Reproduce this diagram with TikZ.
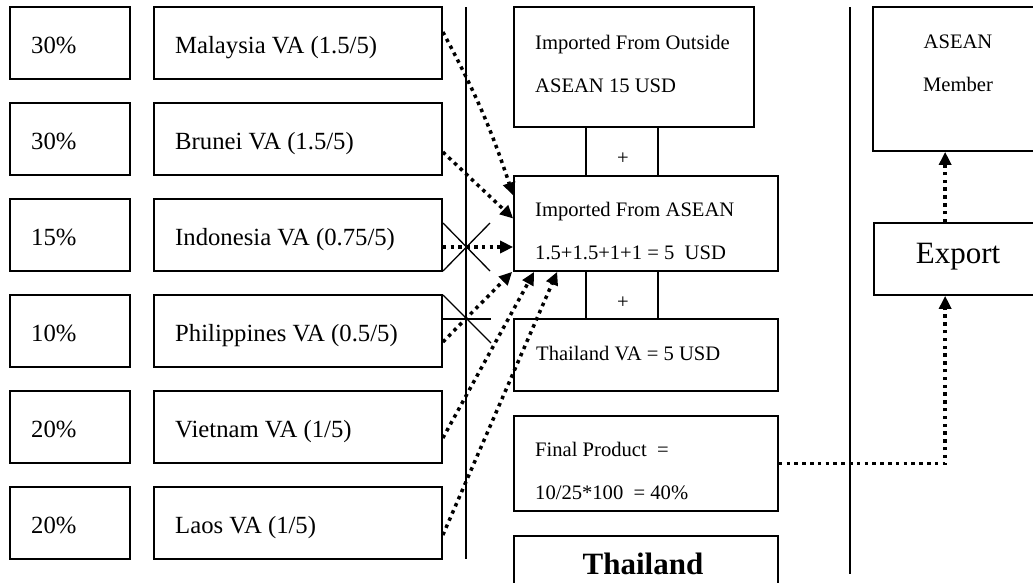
\documentclass[tikz,border=0pt]{standalone}
\usepackage{fontspec}
\setmainfont{Liberation Serif}
\usetikzlibrary{arrows.meta,calc}
\begin{document}
\begin{tikzpicture}[x=1pt,y=-1pt,
  box/.style={draw, line width=1.7pt, inner sep=0pt, rectangle},
  pbox/.style={box, minimum width=120pt, minimum height=72pt},
  vbox/.style={box, minimum width=288pt, minimum height=72pt},
  lt/.style={anchor=base west, inner sep=0pt, font=\fontsize{24.7}{28}\selectfont},
  mt/.style={anchor=base west, inner sep=0pt, font=\fontsize{20.6}{24}\selectfont},
  ct/.style={anchor=base, inner sep=0pt, font=\fontsize{20.6}{24}\selectfont},
  dotarrow/.style={line width=3.5pt, dash pattern=on 3.5pt off 4.3pt, -{Triangle[length=13pt,width=12pt]}},
  thinline/.style={line width=1.3pt}]
\useasboundingbox (0,0) rectangle (1033,582);

% left columns
\node[pbox] (p1) at (70,43) {};
\node[pbox] (p2) at (70,139) {};
\node[pbox] (p3) at (70,235) {};
\node[pbox] (p4) at (70,331) {};
\node[pbox] (p5) at (70,427) {};
\node[pbox] (p6) at (70,523) {};
\node[lt] (tp1) at (31,53) {30\%};
\node[lt] (tp2) at (31,149) {30\%};
\node[lt] (tp3) at (31,245) {15\%};
\node[lt] (tp4) at (31,341) {10\%};
\node[lt] (tp5) at (31,437) {20\%};
\node[lt] (tp6) at (31,533) {20\%};

\node[vbox] (mal) at (298,43) {};
\node[vbox] (bru) at (298,139) {};
\node[vbox] (ind) at (298,235) {};
\node[vbox] (phi) at (298,331) {};
\node[vbox] (vie) at (298,427) {};
\node[vbox] (lao) at (298,523) {};
\node[lt] (tmal) at (175,53) {Malaysia VA (1.5/5)};
\node[lt] (tbru) at (175,149) {Brunei VA (1.5/5)};
\node[lt] (tind) at (175,245) {Indonesia VA (0.75/5)};
\node[lt] (tphi) at (175,341) {Philippines VA (0.5/5)};
\node[lt] (tvie) at (175,437) {Vietnam VA (1/5)};
\node[lt] (tlao) at (175,533) {Laos VA (1/5)};

% separators
\coordinate (s1a) at (466,7);
\coordinate (s1b) at (466,559);
\draw[line width=1.6pt] (s1a) -- (s1b);
\coordinate (s2a) at (850,7);
\coordinate (s2b) at (850,574);
\draw[line width=1.6pt] (s2a) -- (s2b);

% crosses
\coordinate (c1) at (443,223);
\coordinate (c2) at (490,271);
\coordinate (c3) at (443,271);
\coordinate (c4) at (490,223);
\draw[thinline] (c1) -- (c2);
\draw[thinline] (c3) -- (c4);
\coordinate (c5) at (443,295);
\coordinate (c6) at (491,343);
\coordinate (c7) at (443,319);
\coordinate (c8) at (491,319);
\draw[thinline] (c5) -- (c6);
\draw[thinline] (c7) -- (c8);

% middle column
\node[box, minimum width=240pt, minimum height=120pt] (out) at (634,67) {};
\node[box, minimum width=72pt, minimum height=49pt] (plus1) at (622,151.5) {};
\node[box, minimum width=264pt, minimum height=95pt] (imp) at (646,223.5) {};
\node[box, minimum width=72pt, minimum height=48pt] (plus2) at (622,295) {};
\node[box, minimum width=264pt, minimum height=72pt] (tva) at (646,355) {};
\node[box, minimum width=264pt, minimum height=95pt] (fin) at (646,463.5) {};
\node[box, minimum width=264pt, minimum height=80pt] (tha) at (646,576) {};

\node[mt] (tout1) at (535,49) {Imported From Outside};
\node[mt] (tout2) at (535,92) {ASEAN 15 USD};
\node[font=\fontsize{20.6}{24}\selectfont, inner sep=0pt] (tplus1) at (623,159) {+};
\node[mt] (timp1) at (535,216) {Imported From ASEAN};
\node[mt] (timp2) at (535,259) {1.5+1.5+1+1 = 5\ \ USD};
\node[font=\fontsize{20.6}{24}\selectfont, inner sep=0pt] (tplus2) at (623,303) {+};
\node[mt] (ttva) at (536,360) {Thailand VA = 5 USD};
\node[mt] (tfin1) at (535,456) {Final Product\ \ =};
\node[mt] (tfin2) at (535,499) {10/25*100\ \ = 40\%};
\node[anchor=base, inner sep=0pt, font=\fontsize{31}{36}\selectfont\bfseries] (ttha) at (643,574) {Thailand};

% right column
\node[box, minimum width=171pt, minimum height=144pt] (asean) at (958.5,79) {};
\node[ct] (tas1) at (958,48) {ASEAN};
\node[ct] (tas2) at (958,91) {Member};
\node[box, minimum width=170pt, minimum height=72pt] (exp) at (959,259) {};
\node[anchor=base, inner sep=0pt, font=\fontsize{31}{36}\selectfont] (texp) at (958,263) {Export};

% arrows
\draw[dotarrow] ([yshift=11pt]mal.east) to[bend left=5] ([yshift=28pt]imp.west);
\draw[dotarrow] ([yshift=-13pt]bru.east) -- ([yshift=5pt]imp.west);
\draw[dotarrow] ([yshift=-12pt]ind.east) -- ([yshift=-23.5pt]imp.west);
\draw[dotarrow] ([yshift=-11pt]phi.east) -- ([xshift=-1pt]imp.south west);
\draw[dotarrow] ([yshift=-11pt]vie.east) -- ([xshift=21pt]imp.south west);
\draw[dotarrow] ([yshift=-12pt]lao.east) -- ([xshift=44pt]imp.south west);

\draw[dotarrow] (fin.east) -| ([xshift=72pt]exp.south west);
\draw[dotarrow] ([xshift=72pt]exp.north west) -- ([xshift=73pt]asean.south west);
\end{tikzpicture}
\end{document}
